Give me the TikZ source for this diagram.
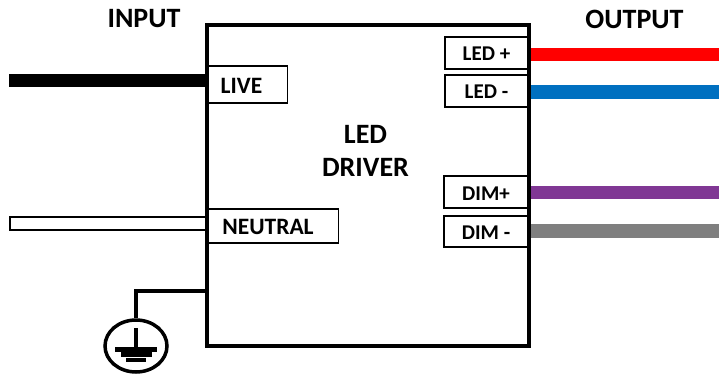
\documentclass[tikz,border=0pt]{standalone}
\usepackage{fontspec}
\setmainfont{Carlito}
\usetikzlibrary{positioning}
\usetikzlibrary{shapes.geometric}

\begin{document}
\begin{tikzpicture}[
    x=1pt,
    y=-1pt,
    pin/.style={%
      draw,
      rectangle,
      line width=1.3pt,
      inner sep=0pt,
      text height=16pt,
      text depth=0pt,
      font=\fontsize{21}{24}\bfseries,
    },
    pintext/.style={%
      inner sep=0pt,
      font=\fontsize{23.5}{28}\bfseries,
    },
    heading/.style={%
      inner sep=0pt,
      font=\fontsize{28}{33}\bfseries,
    },
    wire/.style={%
      line width=13.5pt,
    },
    gndline/.style={%
      line width=3.5pt,
    },
  ]

    \useasboundingbox (0,0) rectangle (719,374);

    \node [draw, rectangle, line width=3.5pt, minimum width=322pt, minimum height=321pt, inner sep=0pt] (driver) at (367.75,185.5) {};

    \node [heading] (input) at (144,19) {INPUT};
    \node [heading] (output) at (634.5,19) {OUTPUT};
    \node [heading, align=center] (title) at (365.5,151) {LED\\DRIVER};

    \node [draw, rectangle, line width=1.3pt, minimum width=80pt, minimum height=37pt] (live) at (247.5,84.5) {};
    \node [pintext] (liveText) at (241.5,86) {LIVE};
    \node [draw, rectangle, line width=1.3pt, minimum width=131pt, minimum height=34pt] (neutral) at (273,226) {};
    \node [pintext] (neutralText) at (268,226.5) {NEUTRAL};

    \node [pin, minimum width=83pt, minimum height=32pt] (ledP) at (486.5,53) {LED +};
    \node [pin, minimum width=83pt, minimum height=32pt] (ledM) at (486.5,91) {LED -};
    \node [pin, minimum width=84pt, minimum height=32pt] (dimP) at (486,192) {DIM+};
    \node [pin, minimum width=84pt, minimum height=31pt] (dimM) at (486,231.5) {DIM -};

    \coordinate (liveEnd) at (9,80.5);
    \coordinate (redEnd) at (719,54.5);
    \coordinate (blueEnd) at (719,92);
    \coordinate (purpleEnd) at (719,192.5);
    \coordinate (greyEnd) at (719,231);

    \draw [wire] (liveEnd) -- (liveEnd -| driver.west);
    \draw [wire, color={rgb,255:red,255;green,0;blue,0}] (redEnd) -- (redEnd -| driver.east);
    \draw [wire, color={rgb,255:red,0;green,112;blue,192}] (blueEnd) -- (blueEnd -| driver.east);
    \draw [wire, color={rgb,255:red,128;green,55;blue,148}] (purpleEnd) -- (purpleEnd -| driver.east);
    \draw [wire, color={rgb,255:red,127;green,127;blue,127}] (greyEnd) -- (greyEnd -| driver.east);

    % hollow neutral wire
    \node [draw, rectangle, line width=1.3pt, minimum width=196pt, minimum height=13pt, inner sep=0pt] (neutralWire) at (108,223.5) {};

    % earth symbol
    \node [draw, ellipse, line width=3.5pt, minimum width=62pt, minimum height=52pt, inner sep=0pt] (gndRing) at (136,346) {};
    \coordinate (gndTap) at (206,291);
    \draw [gndline] (gndTap -| driver.west) -| (gndRing.north);

    \coordinate (gndTop) at (136,328);
    \coordinate (gndMid) at (136,349);
    \draw [gndline] (gndTop) -- (gndMid);
    \draw [line width=4.5pt] (115,349.5) -- (157,349.5);
    \draw [line width=5pt] (121,354.5) -- (152,354.5);
    \draw [line width=4pt] (126,360) -- (146,360);

\end{tikzpicture}
\end{document}
